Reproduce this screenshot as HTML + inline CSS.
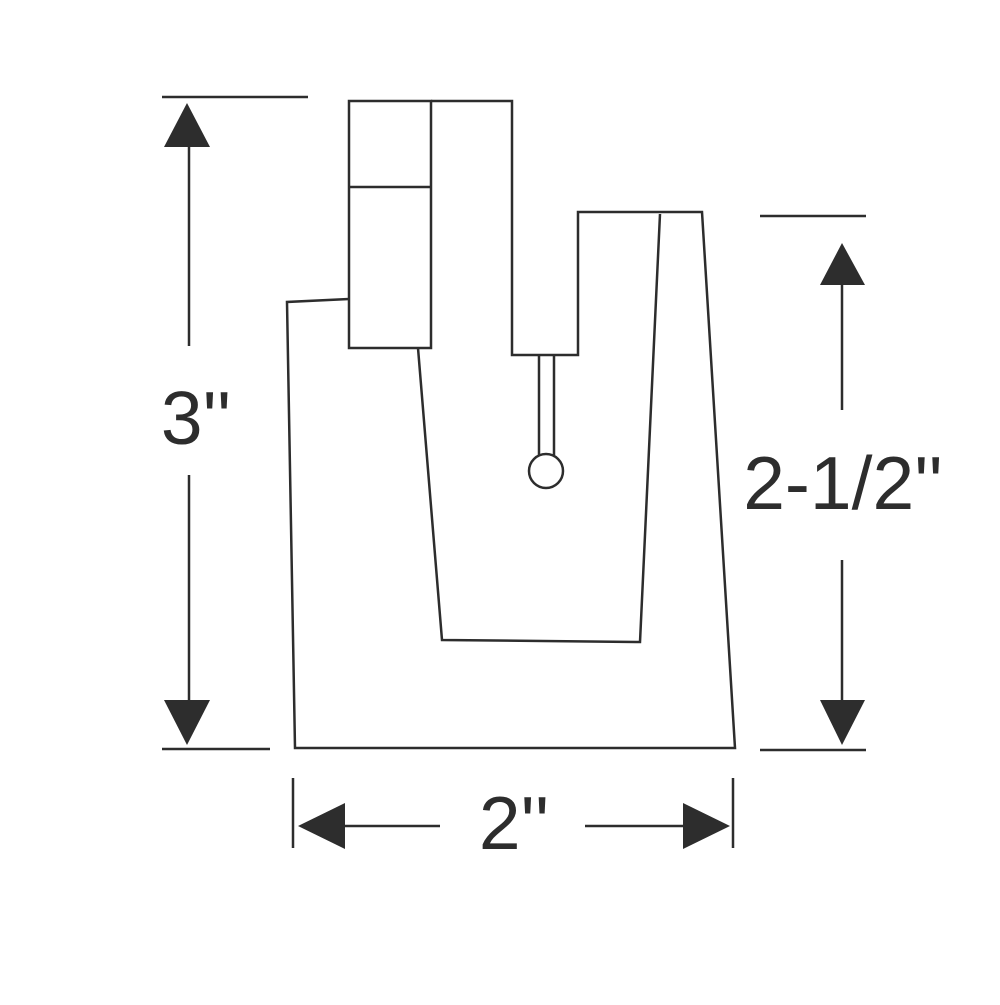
<!DOCTYPE html><html><head><style>body{margin:0;background:#fff}</style></head><body>
<svg width="1000" height="1000" viewBox="0 0 1000 1000" xmlns="http://www.w3.org/2000/svg">
<g fill="none" stroke="#2d2d2d" stroke-width="2.5">
<line x1="162" y1="97" x2="308" y2="97"/>
<line x1="162" y1="749" x2="270" y2="749"/>
<line x1="760" y1="216" x2="866" y2="216"/>
<line x1="760" y1="750" x2="866" y2="750"/>
<line x1="293" y1="778" x2="293" y2="848"/>
<line x1="733" y1="778" x2="733" y2="848"/>
<line x1="189" y1="147" x2="189" y2="346"/>
<line x1="189" y1="475" x2="189" y2="700"/>
<line x1="842" y1="285" x2="842" y2="410"/>
<line x1="842" y1="560" x2="842" y2="700"/>
<line x1="345" y1="826" x2="440" y2="826"/>
<line x1="585" y1="826" x2="683" y2="826"/>
<rect x="349" y="101" width="82" height="247"/>
<line x1="349" y1="187" x2="431" y2="187"/>
<polyline points="431,101 512,101 512,355 578,355 578,212 702,212 735,748 295,748 287,302 349,299"/>
<polyline points="418,348 442,640 640,642 660,214"/>
<line x1="539" y1="355" x2="539" y2="456"/>
<line x1="554" y1="355" x2="554" y2="456"/>
<circle cx="546" cy="471" r="17"/>
</g>
<g fill="#2d2d2d">
<polygon points="187,103 164,147 210,147"/>
<polygon points="187,745 164,700 210,700"/>
<polygon points="842,243 820,285 865,285"/>
<polygon points="842,745 820,700 865,700"/>
<polygon points="298,826 345,803 345,849"/>
<polygon points="730,826 683,803 683,849"/>
</g>
<g font-family="Liberation Sans, sans-serif" font-size="75" fill="#2d2d2d" text-anchor="middle">
<text x="196" y="444">3''</text>
<text x="843" y="509">2-1/2''</text>
<text x="514" y="849">2''</text>
</g>
</svg>
</body></html>
